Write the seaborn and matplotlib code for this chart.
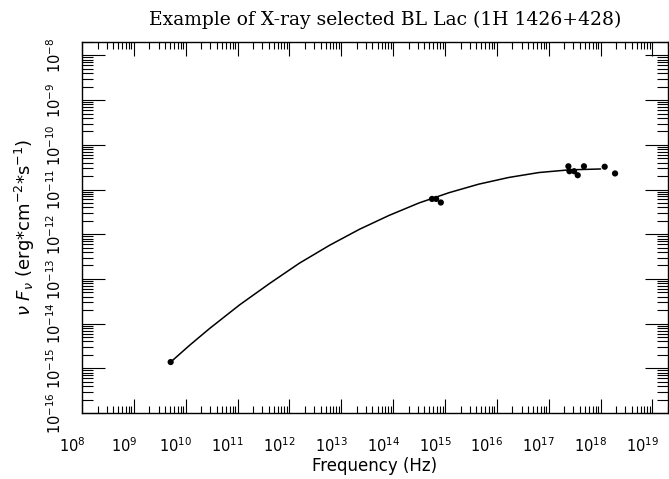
import numpy as np
import pandas as pd
import matplotlib
matplotlib.use("Agg")
import matplotlib.pyplot as plt
import seaborn as sns
from matplotlib.ticker import FixedLocator, LogLocator, NullFormatter
from matplotlib.transforms import ScaledTranslation

# Observed SED points (log10 of frequency in Hz, log10 of nu*F_nu in erg/cm^2/s)
radio_log_nu = [9.71]
radio_log_flux = [-14.86]
optical_log_nu = [14.75, 14.83, 14.92]
optical_log_flux = [-11.21, -11.21, -11.29]
xray_log_nu = [17.38, 17.40, 17.49, 17.56, 17.68, 18.08, 18.28]
xray_log_flux = [-10.48, -10.59, -10.59, -10.68, -10.48, -10.49, -10.64]

# Smooth synchrotron curve through the data
curve_log_nu = [9.71, 10.08, 10.46, 11.04, 11.62, 12.19, 12.77, 13.35,
                13.92, 14.50, 15.08, 15.65, 16.23, 16.81, 17.39, 18.00]
curve_log_flux = [-14.86, -14.48, -14.11, -13.58, -13.10, -12.65, -12.25, -11.89,
                  -11.58, -11.30, -11.07, -10.88, -10.73, -10.62, -10.56, -10.54]

x_exponents = list(range(8, 20))
y_exponents = list(range(-16, -7))

title_text = "Example of X-ray selected BL Lac (1H 1426+428)"
x_label = "Frequency (Hz)"
y_label = r"$\nu\ F_\nu$ (erg*cm$^{-2}$*s$^{-1}$)"

points = pd.DataFrame({
    "nu": 10.0 ** np.array(radio_log_nu + optical_log_nu + xray_log_nu),
    "flux": 10.0 ** np.array(radio_log_flux + optical_log_flux + xray_log_flux),
})
curve = pd.DataFrame({
    "nu": 10.0 ** np.array(curve_log_nu),
    "flux": 10.0 ** np.array(curve_log_flux),
})

sns.set_theme(style="ticks", rc={
    "axes.edgecolor": "black",
    "axes.linewidth": 1.0,
    "xtick.color": "black",
    "ytick.color": "black",
    "text.color": "black",
    "axes.labelcolor": "black",
})
plt.rcParams["font.family"] = ["DejaVu Sans"]

W, H = 669, 479
fig = plt.figure(figsize=(W / 100, H / 100), dpi=100)
ax = fig.add_axes([82 / W, 1 - 413 / H, (668 - 82) / W, (413 - 42) / H])
ax.set_xscale("log")
ax.set_yscale("log")

sns.lineplot(data=curve, x="nu", y="flux", color="black", linewidth=1.1,
             sort=False, estimator=None, ax=ax)
sns.scatterplot(data=points, x="nu", y="flux", color="black", s=20,
                edgecolor="none", ax=ax)

ax.set_xlim(1e8, 2e19)
ax.set_ylim(1e-16, 2e-8)

ax.xaxis.set_major_locator(FixedLocator([10.0 ** e for e in x_exponents]))
ax.set_xticklabels([f"$10^{{{e}}}$" for e in x_exponents])
ax.xaxis.set_minor_locator(LogLocator(base=10, subs=np.arange(2, 10), numticks=50))
ax.xaxis.set_minor_formatter(NullFormatter())

ax.yaxis.set_major_locator(FixedLocator([10.0 ** e for e in y_exponents]))
ax.set_yticklabels([f"$10^{{{e}}}$" for e in y_exponents])
ax.yaxis.set_minor_locator(LogLocator(base=10, subs=np.arange(2, 10), numticks=50))
ax.yaxis.set_minor_formatter(NullFormatter())

ax.tick_params(which="both", direction="in", top=True, right=True, width=0.8)
ax.tick_params(axis="x", which="major", length=10, pad=17, labelsize=10.5)
ax.tick_params(axis="x", which="minor", length=5)
ax.tick_params(axis="y", which="major", length=16.5, pad=13, labelsize=10.5,
               labelrotation=90)
ax.tick_params(axis="y", which="minor", length=8)
for lab in ax.get_yticklabels():
    lab.set_va("center")

shift = ScaledTranslation(-0.10, 0, fig.dpi_scale_trans)
for lab in ax.get_xticklabels():
    lab.set_transform(lab.get_transform() + shift)

ax.set_xlabel(x_label, fontsize=12, labelpad=1)
ax.set_ylabel(y_label, fontsize=13, labelpad=6)
fig.text(385 / W, 1 - 20 / H, title_text, fontsize=13.5, family="DejaVu Serif",
         ha="center", va="center")

fig.savefig("out.png", dpi=100)
